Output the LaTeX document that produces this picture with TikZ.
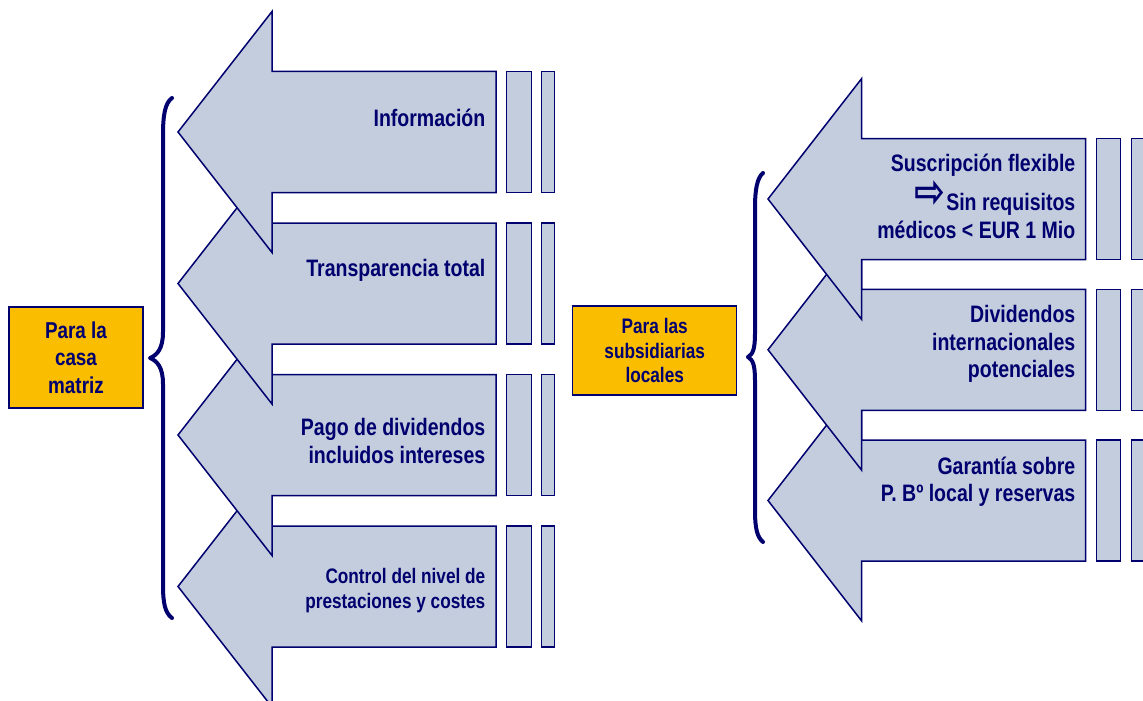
\documentclass[tikz,border=0pt]{standalone}
\usepackage{fontspec}
\setmainfont{Liberation Sans}
\newfontfamily\nar[FakeStretch=0.82]{Liberation Sans}
\newfontfamily\dejavu{DejaVu Sans}
\definecolor{navy}{RGB}{0,0,110}
\definecolor{arrowfill}{RGB}{196,205,222}
\definecolor{orangebox}{RGB}{251,189,0}
\tikzset{
  arrowshape/.style={fill=arrowfill, draw=navy, line width=1.5pt, line join=miter},
  smallbox/.style={fill=arrowfill, draw=navy, line width=1.5pt},
  bracestyle/.style={draw=navy, line width=4pt, line cap=round, line join=round},
  lbl/.style={font=\nar\bfseries\fontsize{23.8}{28}\selectfont, text=navy, align=right, anchor=base east, inner sep=0pt},
  obox/.style={fill=orangebox, draw=navy, line width=1.5pt, text=navy, align=center, inner sep=0pt},
}
% #1 tip x, #2 tip y, #3 head base x, #4 body right x
\newcommand{\myarrow}[4]{%
  \draw[arrowshape] (#1,#2) -- (#3,#2-120.5) -- (#3,#2-60.5) -- (#4,#2-60.5)
    -- (#4,#2+60.5) -- (#3,#2+60.5) -- (#3,#2+120.5) -- cycle;}
\begin{document}
\begin{tikzpicture}[x=1pt,y=-1pt]
\useasboundingbox (0,0) rectangle (1143,701);
\clip (0,0) rectangle (1143,701);
% left group arrows (bottom first)
\myarrow{178}{586.5}{272}{496}
\myarrow{178}{435}{272}{496}
\myarrow{178}{283.5}{272}{496}
\myarrow{178}{132}{272}{496}
\foreach \ty in {132,283.5,435,586.5}{
  \draw[smallbox] (506.7,\ty-60.5) rectangle (531.5,\ty+60.5);
  \draw[smallbox] (541.7,\ty-60.5) rectangle (554.5,\ty+60.5);
}
% right group arrows
\myarrow{768}{500.5}{861.7}{1085.7}
\myarrow{768}{349.75}{861.7}{1085.7}
\myarrow{768}{199}{861.7}{1085.7}
\foreach \ty in {199,349.75,500.5}{
  \draw[smallbox] (1096.7,\ty-60.5) rectangle (1120.7,\ty+60.5);
  \draw[smallbox] (1131.7,\ty-60.5) rectangle (1146,\ty+60.5);
}
% braces
\draw[bracestyle] (172,98) .. controls (165,103) and (163,115) .. (163,135) -- (163,332)
  .. controls (163,349) and (157,355) .. (150,358)
  .. controls (157,361) and (163,367) .. (163,384) -- (163,585)
  .. controls (163,603) and (165,613) .. (172,618);
\draw[bracestyle] (763,173) .. controls (757,178) and (755,190) .. (755,208) -- (755,333)
  .. controls (755,349) and (753,354) .. (748,357)
  .. controls (753,360) and (755,365) .. (755,381) -- (755,510)
  .. controls (755,528) and (757,537) .. (763,542);
% orange boxes
\node[obox, minimum width=134pt, minimum height=101pt,
      font=\nar\bfseries\fontsize{23}{27.5}\selectfont] (boxL) at (76,357.5) {Para la\\casa\\matriz};
\node[obox, minimum width=164pt, minimum height=89pt,
      font=\nar\bfseries\fontsize{21}{24.2}\selectfont] (boxR) at (654.7,350.5) {Para las\\subsidiarias\\locales};
% left labels
\node[lbl] (l1) at (485.5,126.7) {Información};
\node[lbl] (l2) at (485.5,276.7) {Transparencia total};
\node[lbl] (l3) at (485.5,463.1) {Pago de dividendos\\incluidos intereses};
\node[lbl, font=\nar\bfseries\fontsize{21}{25}\selectfont] (l4) at (485.5,608.5) {Control del nivel de\\prestaciones y costes};
% right labels
\node[lbl, font=\nar\bfseries\fontsize{23.8}{27.3}\selectfont] (r1) at (1075.5,238.1)
  {Suscripción flexible\\[12pt]\smash{\raisebox{3pt}{\dejavu\scalebox{1}[1.25]{\fontsize{37}{37}\selectfont ⇨}}}\hspace{1pt}Sin requisitos\\médicos < EUR 1 Mio};
\node[lbl, font=\nar\bfseries\fontsize{23.8}{27.5}\selectfont] (r2) at (1075.5,377.5) {Dividendos\\internacionales\\potenciales};
\node[lbl, font=\nar\bfseries\fontsize{23.8}{27.3}\selectfont] (r3) at (1075.5,501.5) {Garantía sobre\\P. Bº local y reservas};
\end{tikzpicture}
\end{document}
